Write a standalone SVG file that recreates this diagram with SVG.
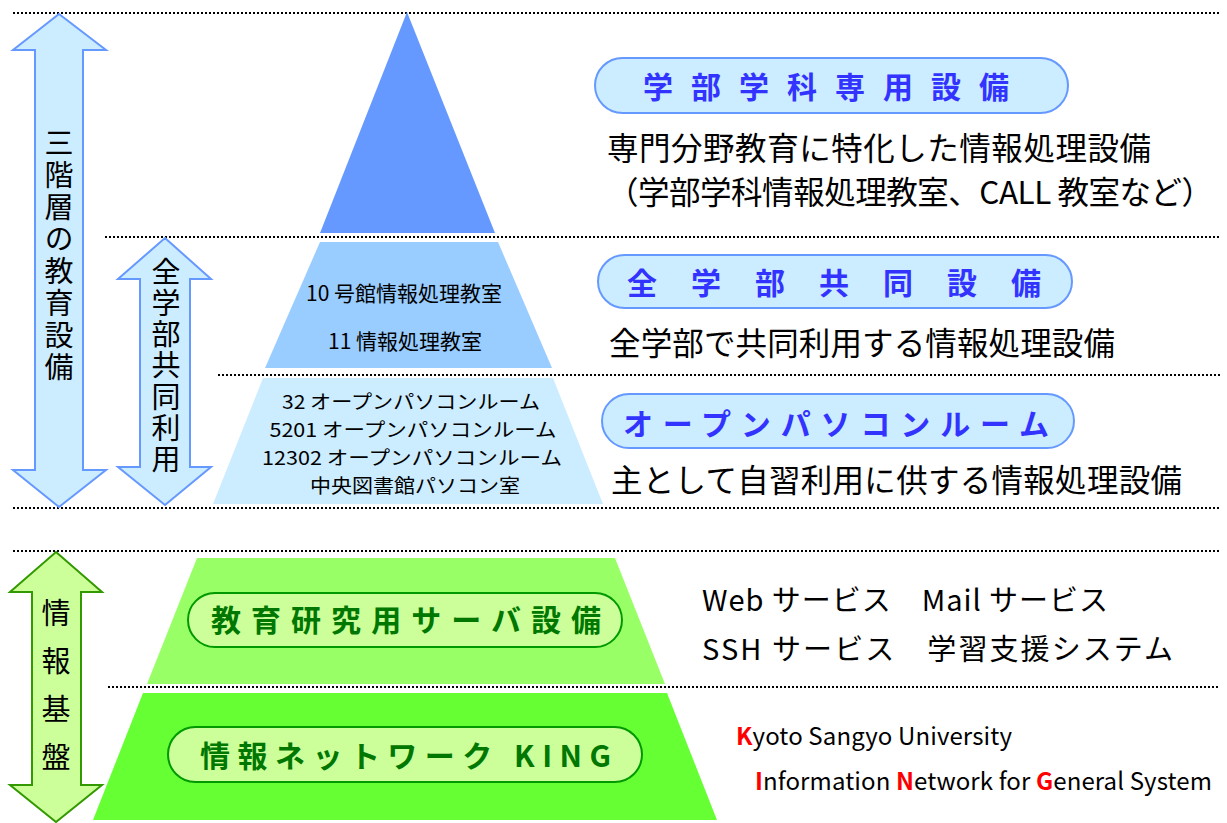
<svg xmlns="http://www.w3.org/2000/svg" width="1227" height="823" viewBox="0 0 1227 823">
<style>
text{font-family:"Noto Sans CJK JP","Noto Sans",sans-serif;fill:#000}
.div{stroke:#000;stroke-width:2;stroke-dasharray:2 2;fill:none}
.barr{fill:#CCECFF;stroke:#6699FF;stroke-width:2}
.garr{fill:#CCFF99;stroke:#339900;stroke-width:2}
.bpill{fill:#CCECFF;stroke:#6699FF;stroke-width:2}
.gpill{fill:#CCFF99;stroke:#009900;stroke-width:2}
.vt{font-size:29px;writing-mode:vertical-rl}
.pt{font-size:21px;text-anchor:middle}
.pt3{font-size:19px;text-anchor:middle}
.desc{font-size:31.5px}
.bt{font-size:30px;font-weight:700;fill:#3333FF}
.gt{font-size:30px;font-weight:700;fill:#007700}
.svc{font-size:29px}
.eng{font-size:24px}
.red{fill:#FF0000;font-weight:700}
</style>
<g id="dividers">
<line class="div" x1="13" y1="13" x2="1220" y2="13"/>
<line class="div" x1="105" y1="237" x2="1220" y2="237"/>
<line class="div" x1="218" y1="375" x2="1220" y2="375"/>
<line class="div" x1="13" y1="508" x2="1220" y2="508"/>
<line class="div" x1="13" y1="551" x2="1220" y2="551"/>
<line class="div" x1="108" y1="687" x2="1220" y2="687"/>
</g>
<g id="tier1"><polygon points="407,12 495,233 320,233" fill="#6699FF"/></g>
<g id="tier2">
<polygon points="320,242 498,242 552,368 265,368" fill="#99CCFF"/>
<text class="pt" x="404" y="301">10 号館情報処理教室</text>
<text class="pt" x="405" y="349">11 情報処理教室</text>
</g>
<g id="tier3">
<polygon points="263,378 553,378 603,504 213,504" fill="#CCECFF"/>
<text class="pt3" x="411" y="409" textLength="258" lengthAdjust="spacingAndGlyphs">32 オープンパソコンルーム</text>
<text class="pt3" x="413" y="437" textLength="287" lengthAdjust="spacingAndGlyphs">5201 オープンパソコンルーム</text>
<text class="pt3" x="412" y="465" textLength="300" lengthAdjust="spacingAndGlyphs">12302 オープンパソコンルーム</text>
<text class="pt3" x="415" y="493" textLength="210" lengthAdjust="spacingAndGlyphs">中央図書館パソコン室</text>
</g>
<g id="tier4">
<polygon points="197,558 615,558 665,684 147,684" fill="#99FF66"/>
<rect class="gpill" x="188" y="593" width="434" height="54" rx="27"/>
<text class="gt" x="211" y="631" textLength="390" lengthAdjust="spacing">教育研究用サーバ設備</text>
</g>
<g id="tier5">
<polygon points="143,693 667,693 717,820 93,820" fill="#66FF33"/>
<rect class="gpill" x="168" y="727" width="474" height="55" rx="27.5"/>
<text class="gt" x="200" y="767" textLength="411" lengthAdjust="spacing">情報ネットワーク KING</text>
</g>
<g id="arrow-three-tier">
<polygon class="barr" points="59,14 106,50 83,50 83,470 106,470 59,507 13,470 35,470 35,50 13,50"/>
<text class="vt" x="59" y="128.5" style="letter-spacing:3px">三階層の教育設備</text>
</g>
<g id="arrow-shared">
<polygon class="barr" points="165,238 211,279 190,279 190,467 211,467 165,505 118,467 140,467 140,279 118,279"/>
<text class="vt" x="166" y="257" style="letter-spacing:2.3px">全学部共同利用</text>
</g>
<g id="arrow-infra">
<polygon class="garr" points="56,552 102,592 81,592 81,785 102,785 56,822 10,785 32,785 32,592 10,592"/>
<text class="vt" x="56" y="598.5" style="letter-spacing:19px">情報基盤</text>
</g>
<g id="label-dept">
<rect class="bpill" x="595" y="58" width="473" height="55" rx="27.5"/>
<text class="bt" x="643" y="98" textLength="366" lengthAdjust="spacing">学部学科専用設備</text>
<text class="desc" x="607" y="160" textLength="544" lengthAdjust="spacing">専門分野教育に特化した情報処理設備</text>
<text class="desc" x="607" y="204" textLength="606" lengthAdjust="spacing">（学部学科情報処理教室、CALL 教室など）</text>
</g>
<g id="label-shared">
<rect class="bpill" x="598" y="255" width="474" height="53" rx="26.5"/>
<text class="bt" x="627" y="294" textLength="414" lengthAdjust="spacing">全学部共同設備</text>
<text class="desc" x="609" y="355" textLength="506" lengthAdjust="spacing">全学部で共同利用する情報処理設備</text>
</g>
<g id="label-open">
<rect class="bpill" x="602" y="394" width="472" height="54" rx="27"/>
<text class="bt" x="623" y="435" textLength="426" lengthAdjust="spacing">オープンパソコンルーム</text>
<text class="desc" x="611" y="492" textLength="571" lengthAdjust="spacing">主として自習利用に供する情報処理設備</text>
</g>
<g id="label-services">
<text class="svc" x="702" y="611" textLength="406" lengthAdjust="spacing">Web サービス　Mail サービス</text>
<text class="svc" x="702" y="660" textLength="471" lengthAdjust="spacing">SSH サービス　学習支援システム</text>
</g>
<g id="label-king">
<text class="eng" x="736" y="745" textLength="276" lengthAdjust="spacing"><tspan class="red">K</tspan>yoto Sangyo University</text>
<text class="eng" x="755" y="790" textLength="457" lengthAdjust="spacing"><tspan class="red">I</tspan>nformation <tspan class="red">N</tspan>etwork for <tspan class="red">G</tspan>eneral System</text>
</g>
</svg>
